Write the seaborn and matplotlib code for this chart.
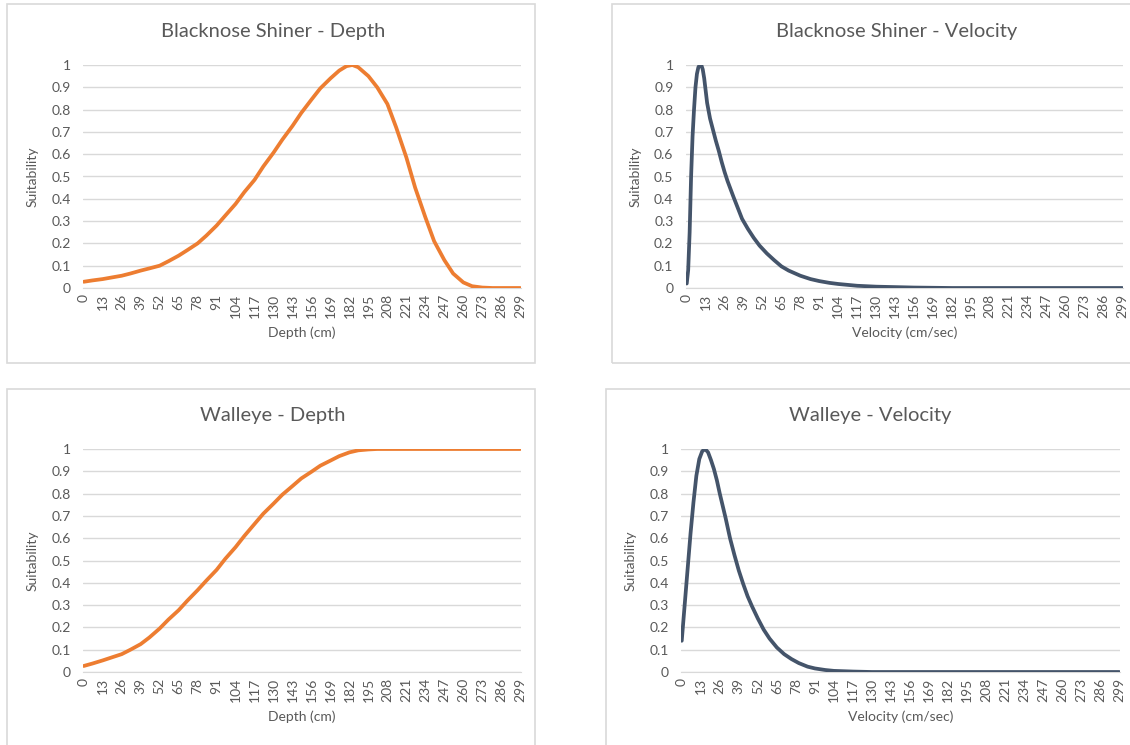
import matplotlib
matplotlib.use("Agg")
import matplotlib.pyplot as plt
import seaborn as sns
from matplotlib.patches import Rectangle

# values (x = category index 0..299)
shiner_depth_x = [0, 6, 13, 19, 26, 32, 39, 45, 52, 58, 65, 71, 78, 84, 91, 97, 104,
                  110, 117, 123, 130, 136, 143, 149, 156, 162, 169, 175, 180, 184,
                  188, 195, 201, 208, 214, 221, 227, 234, 240, 247, 253, 260, 266,
                  273, 280, 299]
shiner_depth_y = [0.028, 0.034, 0.04, 0.047, 0.055, 0.065, 0.078, 0.088, 0.10, 0.12,
                  0.145, 0.17, 0.20, 0.235, 0.28, 0.325, 0.377, 0.43, 0.485, 0.545,
                  0.607, 0.665, 0.727, 0.785, 0.845, 0.895, 0.94, 0.975, 0.995, 1.0,
                  0.99, 0.95, 0.9, 0.825, 0.72, 0.585, 0.45, 0.317, 0.21, 0.125,
                  0.065, 0.025, 0.008, 0.002, 0.0, 0.0]

shiner_vel_x = [0, 1, 2, 3, 4, 5, 6, 7, 8, 9, 10, 11, 12, 14, 16, 18, 20, 22, 24, 26,
                28, 30, 32, 35, 38, 42, 46, 50, 55, 60, 65, 70, 78, 85, 91, 98, 104,
                117, 130, 143, 156, 169, 182, 299]
shiner_vel_y = [0.02, 0.08, 0.25, 0.5, 0.68, 0.8, 0.9, 0.96, 0.99, 1.0, 1.0, 0.98,
                0.94, 0.83, 0.76, 0.71, 0.66, 0.615, 0.565, 0.52, 0.48, 0.445, 0.41,
                0.36, 0.31, 0.265, 0.225, 0.19, 0.155, 0.125, 0.097, 0.078, 0.055,
                0.04, 0.031, 0.023, 0.018, 0.01, 0.006, 0.004, 0.002, 0.001, 0.0, 0.0]

walleye_depth_x = [0, 6, 13, 19, 26, 32, 39, 45, 52, 58, 65, 71, 78, 84, 91, 97, 104,
                   110, 117, 123, 130, 136, 143, 149, 156, 162, 169, 175, 182, 188,
                   195, 201, 299]
walleye_depth_y = [0.027, 0.038, 0.052, 0.065, 0.08, 0.1, 0.125, 0.155, 0.195, 0.235,
                   0.277, 0.32, 0.367, 0.41, 0.458, 0.508, 0.56, 0.61, 0.664, 0.71,
                   0.755, 0.795, 0.834, 0.868, 0.898, 0.925, 0.948, 0.968, 0.985,
                   0.994, 0.998, 1.0, 1.0]

walleye_vel_x = [0, 2, 4, 6, 8, 10, 12, 14, 16, 18, 20, 22, 24, 26, 28, 30, 33, 36,
                 39, 42, 45, 48, 52, 56, 60, 65, 70, 75, 80, 86, 91, 98, 104, 117,
                 130, 299]
walleye_vel_y = [0.14, 0.3, 0.46, 0.62, 0.76, 0.88, 0.955, 0.99, 1.0, 0.985, 0.95,
                 0.91, 0.86, 0.8, 0.745, 0.69, 0.6, 0.525, 0.455, 0.395, 0.34, 0.295,
                 0.24, 0.19, 0.15, 0.11, 0.08, 0.058, 0.04, 0.024, 0.016, 0.009,
                 0.005, 0.002, 0.0, 0.0]

x_ticks = list(range(0, 300, 13))
y_ticks = [0, 0.1, 0.2, 0.3, 0.4, 0.5, 0.6, 0.7, 0.8, 0.9, 1]
y_tick_labels = ["0", "0.1", "0.2", "0.3", "0.4", "0.5", "0.6", "0.7", "0.8", "0.9", "1"]

ORANGE = "#ED7D31"
SLATE = "#44546A"
TEXT = "#595959"
GRID = "#D9D9D9"

W, H = 1130, 745
sns.set_style("white")
plt.rcParams["font.family"] = ["Lato", "DejaVu Sans"]

fig = plt.figure(figsize=(W / 100, H / 100), dpi=100)


def rect(left, top, right, bottom):
    return [left / W, 1 - bottom / H, (right - left) / W, (bottom - top) / H]


panels = [
    # box, plot area, title x, title, xlabel, data, colour
    ((7, 4, 535, 363), (83, 65, 521, 288), 273, "Blacknose Shiner - Depth", "Depth (cm)",
     shiner_depth_x, shiner_depth_y, ORANGE),
    ((612, 4, 1160, 363), (686, 65, 1123, 288), 897, "Blacknose Shiner - Velocity",
     "Velocity (cm/sec)", shiner_vel_x, shiner_vel_y, SLATE),
    ((7, 389, 535, 780), (83, 449, 521, 672), 273, "Walleye - Depth", "Depth (cm)",
     walleye_depth_x, walleye_depth_y, ORANGE),
    ((606, 389, 1160, 780), (681, 449, 1120, 672), 870, "Walleye - Velocity",
     "Velocity (cm/sec)", walleye_vel_x, walleye_vel_y, SLATE),
]

for box, area, tx, title, xlabel, xs, ys, colour in panels:
    bl, bt, br, bb = box
    fig.patches.append(Rectangle((bl / W, 1 - bb / H), (br - bl) / W, (bb - bt) / H,
                                 transform=fig.transFigure, fill=False,
                                 edgecolor=GRID, linewidth=1.2))
    ax = fig.add_axes(rect(*area))
    sns.lineplot(x=xs, y=ys, ax=ax, color=colour, linewidth=2.7, zorder=3)
    ax.set_xlim(-0.5, 299.5)
    ax.set_ylim(0, 1)
    ax.set_yticks(y_ticks)
    ax.set_yticklabels(y_tick_labels)
    ax.set_xticks(x_ticks)
    ax.set_xticklabels([str(t) for t in x_ticks], rotation=90)
    ax.tick_params(axis="y", length=0, pad=9, labelsize=10, labelcolor=TEXT)
    ax.tick_params(axis="x", length=0, pad=4, labelsize=10, labelcolor=TEXT)
    ax.yaxis.grid(True, color=GRID, linewidth=1)
    ax.set_axisbelow(True)
    for s in ["top", "right", "left"]:
        ax.spines[s].set_visible(False)
    ax.spines["bottom"].set_color(GRID)
    ax.spines["bottom"].set_zorder(1)
    ax.set_ylabel("Suitability", color=TEXT, fontsize=10, labelpad=9)
    ax.set_xlabel(xlabel, color=TEXT, fontsize=10, labelpad=6)
    fig.text(tx / W, 1 - (bt + 27) / H, title, ha="center", va="center",
             fontsize=14.5, color=TEXT)

fig.savefig("out.png", dpi=100, facecolor="white")
